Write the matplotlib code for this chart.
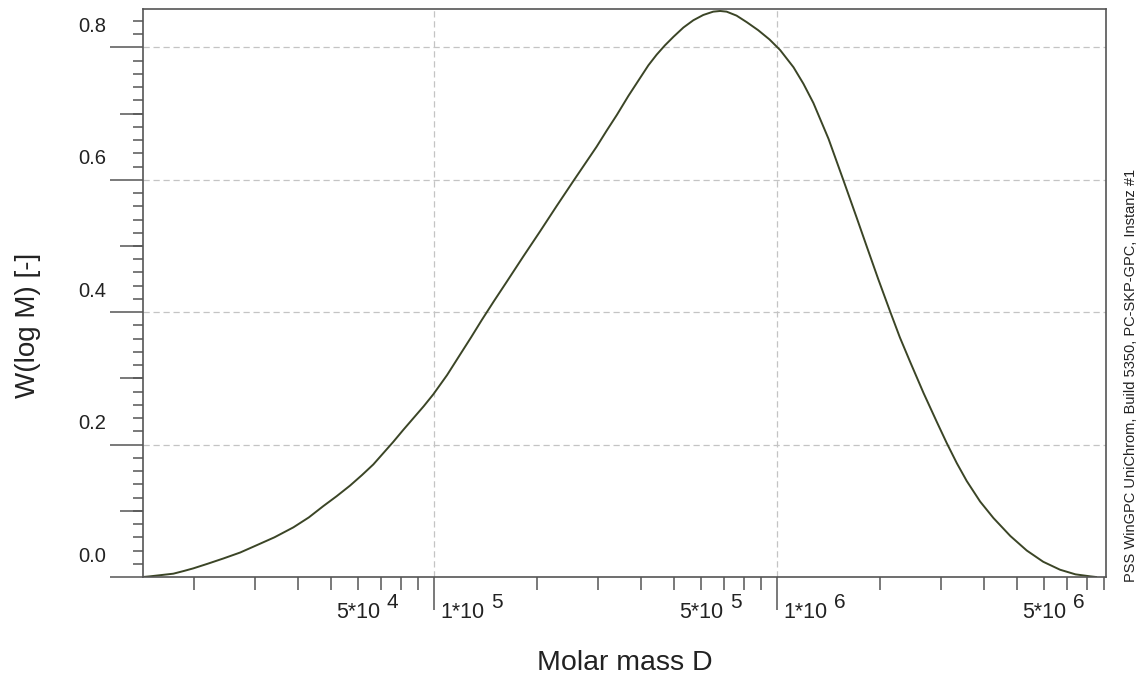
import numpy as np
import matplotlib
matplotlib.use("Agg")
import matplotlib.pyplot as plt
from matplotlib.ticker import FixedLocator, NullFormatter, MultipleLocator

plt.rcParams['font.family'] = ['Liberation Sans', 'DejaVu Sans']

# molar mass distribution (log10 M, W(log M))
log_m = [4.152, 4.172, 4.206, 4.240, 4.270, 4.298, 4.340, 4.386, 4.435,
         4.483, 4.535, 4.590, 4.635, 4.677, 4.716, 4.755, 4.790, 4.823,
         4.852, 4.881, 4.910, 4.940, 4.970, 4.998, 5.038, 5.076, 5.108,
         5.139, 5.175, 5.212, 5.260, 5.309, 5.357, 5.406, 5.440, 5.474,
         5.503, 5.533, 5.567, 5.601, 5.625, 5.649, 5.673, 5.698, 5.727,
         5.756, 5.785, 5.814, 5.834, 5.853, 5.882, 5.912, 5.945, 5.978,
         6.009, 6.048, 6.077, 6.106, 6.150, 6.193, 6.232, 6.261, 6.295,
         6.329, 6.358, 6.388, 6.427, 6.466, 6.495, 6.524, 6.553, 6.592,
         6.631, 6.680, 6.728, 6.776, 6.825, 6.870, 6.913, 6.930]
w_log_m = [0.000, 0.001, 0.003, 0.005, 0.009, 0.013, 0.020, 0.028, 0.037,
           0.048, 0.060, 0.075, 0.090, 0.107, 0.122, 0.138, 0.154, 0.170,
           0.187, 0.204, 0.222, 0.240, 0.258, 0.276, 0.305, 0.336, 0.362,
           0.388, 0.417, 0.446, 0.484, 0.522, 0.560, 0.598, 0.624, 0.650,
           0.674, 0.698, 0.727, 0.754, 0.773, 0.789, 0.803, 0.816, 0.830,
           0.841, 0.849, 0.854, 0.855, 0.854, 0.848, 0.838, 0.826, 0.812,
           0.796, 0.770, 0.745, 0.716, 0.662, 0.600, 0.543, 0.500, 0.450,
           0.402, 0.362, 0.325, 0.278, 0.234, 0.202, 0.172, 0.145, 0.114,
           0.089, 0.062, 0.040, 0.023, 0.011, 0.004, 0.001, 0.000]

y_ticks = [0.0, 0.2, 0.4, 0.6, 0.8]
y_mid_ticks = [0.1, 0.3, 0.5, 0.7]
x_major = [1e5, 1e6]
x_minor = [m * 10.0 ** e for e in (4, 5, 6) for m in range(2, 10)]
x_lab_vals = [5e4, 1e5, 5e5, 1e6, 5e6]
x_lab_mant = ['5*10', '1*10', '5*10', '1*10', '5*10']
x_lab_exp = ['4', '5', '5', '6', '6']

line_col = '#3b4526'
axis_col = '#555555'
grid_col = '#c4c4c4'

fig = plt.figure(figsize=(11.41, 6.78), dpi=100)
ax = fig.add_axes([143 / 1141, 101 / 678, (1106 - 143) / 1141, (577 - 9) / 678])

ax.plot(10.0 ** np.array(log_m), w_log_m, color=line_col, lw=1.4)

ax.set_xscale('log')
ax.set_xlim(10 ** 4.1516, 10 ** 6.959)
ax.set_ylim(0, 0.858)

for s in ax.spines.values():
    s.set_color(axis_col)
    s.set_linewidth(1.2)

# x ticks
ax.xaxis.set_major_locator(FixedLocator(x_major))
ax.xaxis.set_minor_locator(FixedLocator(x_minor))
ax.xaxis.set_major_formatter(NullFormatter())
ax.xaxis.set_minor_formatter(NullFormatter())
ax.tick_params(axis='x', which='major', length=23.8, width=1.1, color=axis_col)
ax.tick_params(axis='x', which='minor', length=9.4, width=1.1, color=axis_col)

# y ticks
ax.yaxis.set_major_locator(FixedLocator(y_ticks))
ax.yaxis.set_minor_locator(MultipleLocator(0.02))
ax.yaxis.set_major_formatter(NullFormatter())
ax.tick_params(axis='y', which='major', length=23.8, width=1.1, color=axis_col)
ax.tick_params(axis='y', which='minor', length=7.2, width=1.1, color=axis_col)

sec = ax.secondary_yaxis('left')
sec.set_yticks(y_mid_ticks)
sec.set_yticklabels([])
sec.minorticks_off()
sec.tick_params(length=16.5, width=1.1, color=axis_col)
for s in sec.spines.values():
    s.set_visible(False)

# grid
for v in y_ticks[1:]:
    ax.axhline(v, color=grid_col, lw=0.9, ls=(0, (5, 3)), zorder=0)
for v in x_major:
    ax.axvline(v, color=grid_col, lw=0.9, ls=(0, (5, 3)), zorder=0)

# tick labels (the software draws them shifted above the ticks)
for v in y_ticks:
    ax.annotate(f'{v:.1f}', xy=(0, v), xycoords=('axes fraction', 'data'),
                xytext=(-37, 21), textcoords='offset pixels',
                ha='right', va='center', fontsize=14.5, color='#222222')

for v, m, e in zip(x_lab_vals, x_lab_mant, x_lab_exp):
    dx = 5 if m.startswith('5') else 6
    t = ax.annotate(m, xy=(v, 0), xycoords=('data', 'axes fraction'),
                    xytext=(dx, -36), textcoords='offset pixels',
                    ha='left', va='center', fontsize=15.5, color='#222222')
    ax.annotate(e, xy=(1, 0.5), xycoords=t, xytext=(7, 11),
                textcoords='offset pixels', ha='left', va='center',
                fontsize=15, color='#222222')

fig.text(28 / 1141, 1 - 325 / 678, 'W(log M) [-]', rotation=90,
         ha='center', va='center', fontsize=20, color='#222222')
fig.text(625 / 1141, 1 - 663 / 678, 'Molar mass D',
         ha='center', va='center', fontsize=20.5, color='#222222')
fig.text(1131 / 1141, 1 - 375 / 678,
         'PSS WinGPC UniChrom, Build 5350, PC-SKP-GPC, Instanz #1',
         rotation=90, ha='center', va='center', fontsize=10.5, color='#222222')

fig.savefig('out.png', dpi=100)
